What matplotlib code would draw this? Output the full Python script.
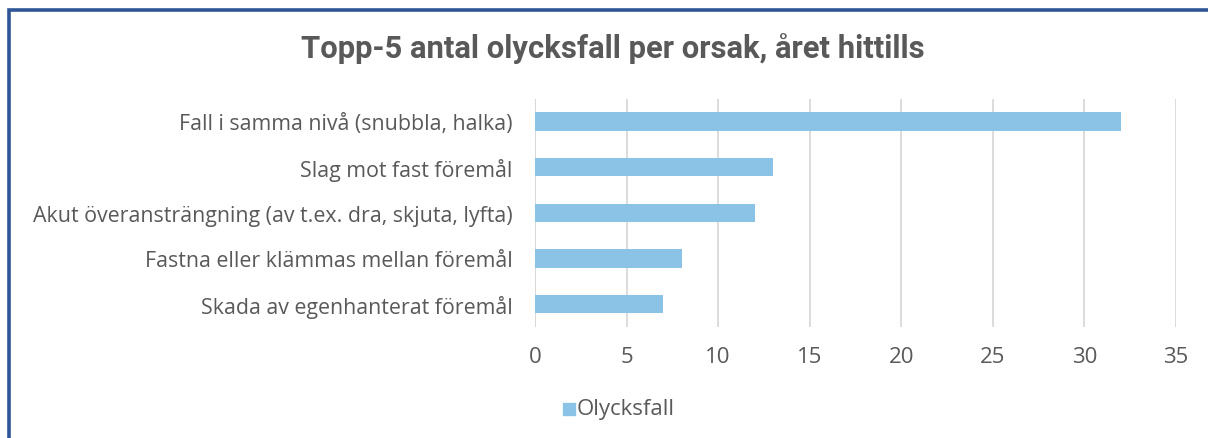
import matplotlib
matplotlib.use('Agg')
import matplotlib.pyplot as plt
from matplotlib.patches import Rectangle

# data
categories = [
    'Fall i samma nivå (snubbla, halka)',
    'Slag mot fast föremål',
    'Akut överansträngning (av t.ex. dra, skjuta, lyfta)',
    'Fastna eller klämmas mellan föremål',
    'Skada av egenhanterat föremål',
]
values = [32, 13, 12, 8, 7]
series_name = 'Olycksfall'
xticks = [0, 5, 10, 15, 20, 25, 30, 35]

text_color = '#595959'
bar_color = '#8BC3E6'
grid_color = '#D9D9D9'
border_color = '#2F5597'

label_font = 'Open Sans'
title_font = 'Roboto'

fig = plt.figure(figsize=(12.08, 4.39), dpi=100)
ax = fig.add_axes([0.4429, 0.2528, 0.9735 - 0.4429, 0.7733 - 0.2528])

ypos = list(range(len(categories)))
ax.barh(ypos, values, height=0.4, color=bar_color, zorder=3)
ax.set_ylim(len(categories) - 0.5, -0.5)
ax.set_xlim(0, 35)
ax.set_xticks(xticks)
ax.set_xticklabels([str(t) for t in xticks], fontsize=16, color=text_color, family=label_font)
ax.set_yticks(ypos)
ax.set_yticklabels(categories, fontsize=15.4, color=text_color, family=label_font)
ax.tick_params(axis='y', length=0, pad=16)
ax.tick_params(axis='x', length=0, pad=14)
ax.grid(axis='x', color=grid_color, linewidth=1.3, zorder=0)
for s in ax.spines.values():
    s.set_visible(False)
ax.axvline(0, color=grid_color, linewidth=1.3, zorder=1)

# title
fig.text(0.5075, 1 - 58 / 439, 'Topp-5 antal olycksfall per orsak, året hittills', ha='center', va='baseline',
         fontsize=22.3, fontweight='bold', color=text_color, family=title_font)

# legend
fig.patches.append(Rectangle((563 / 1208, 1 - 416 / 439), 12 / 1208, 12 / 439,
                             transform=fig.transFigure, color=bar_color))
fig.text(577 / 1208, 1 - 410 / 439, series_name, ha='left', va='center',
         fontsize=16, color=text_color, family=label_font)

# frame around the chart
fig.patches.append(Rectangle((9 / 1208, -0.1), 1.2, 1 - 10.5 / 439 + 0.1, transform=fig.transFigure,
                             fill=False, edgecolor=border_color, linewidth=2.6))

fig.savefig('out.png', dpi=100)
